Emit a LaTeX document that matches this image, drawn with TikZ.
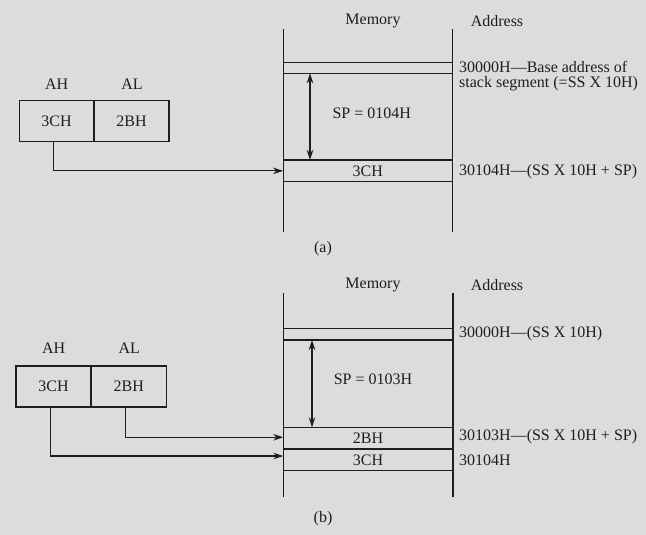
\documentclass[tikz,border=0pt]{standalone}
\usepackage{fontspec}
\setmainfont{Liberation Serif}
\usetikzlibrary{arrows.meta}
\definecolor{bg}{RGB}{220,220,218}
\definecolor{ink}{RGB}{30,30,30}
\tikzset{
  txt/.style={inner sep=0pt, text=ink, font=\fontsize{16}{15}\selectfont},
  ln/.style={draw=ink, line width=1.2pt},
  cellbox/.style={txt, minimum width=169pt, minimum height=21.7pt},
  regbox/.style={txt, draw=ink, line width=1.2pt, minimum width=75pt, minimum height=41pt},
  arr/.style={ln, -{Stealth[length=10pt,width=6.5pt]}},
  dbl/.style={ln, {Stealth[length=10pt,width=6.5pt]}-{Stealth[length=10pt,width=6.5pt]}}
}
\begin{document}
\begin{tikzpicture}[x=1pt,y=-1pt]
\useasboundingbox (0,0) rectangle (646,535);
\fill[bg] (0,0) rectangle (646,535);

% ---------------- (a) ----------------
\node[txt] (amem) at (373,21) {Memory};
\node[txt] (aadr) at (497,21) {Address};
\coordinate (aLt) at (283.3,29);
\coordinate (aLb) at (283.3,231.7);
\coordinate (aRt) at (452.3,29);
\coordinate (aRb) at (452.3,231.7);
\draw[ln] (aLt) -- (aLb);
\draw[ln] (aRt) -- (aRb);
\draw[ln] (283.3,62.3) -- (452.3,62.3);
\draw[ln] (283.3,73.3) -- (452.3,73.3);
\draw[ln] (283.3,160) -- (452.3,160);
\draw[ln] (283.3,181.7) -- (452.3,181.7);
\node[cellbox] (a3) at (367.8,170.85) {3CH};
\coordinate (aspT) at (310,73.3);
\coordinate (aspB) at (310,160);
\draw[dbl] (aspT) -- (aspB);
\node[txt] (asp) at (371.7,113) {SP = 0104H};
\node[txt, anchor=west, align=left] (abase) at (459,75.8) {30000H—Base address of\\[0pt]stack segment (=SS X 10H)};
\node[txt, anchor=west] (aadd) at (459,172) {30104H—(SS X 10H + SP)};
\node[txt] (aAHl) at (56.6,84) {AH};
\node[txt] (aALl) at (132,84) {AL};
\node[regbox] (aAH) at (56.6,121.2) {3CH};
\node[regbox] (aAL) at (131.5,121.2) {2BH};
\draw[arr] ([xshift=-3pt]aAH.south) |- (a3.west);
\node[txt] (acap) at (323,248.3) {(a)};

% ---------------- (b) ----------------
\node[txt] (bmem) at (373,285) {Memory};
\node[txt] (badr) at (497,285) {Address};
\coordinate (bLt) at (283.3,293.3);
\coordinate (bLb) at (283.3,496.7);
\coordinate (bRt) at (453,293.3);
\coordinate (bRb) at (453,496.7);
\draw[ln] (bLt) -- (bLb);
\draw[ln] (bRt) -- (bRb);
\draw[ln] (283.3,328.3) -- (453,328.3);
\draw[ln] (283.3,340) -- (453,340);
\draw[ln] (283.3,427.3) -- (453,427.3);
\draw[ln] (283.3,449) -- (453,449);
\draw[ln] (283.3,470.7) -- (453,470.7);
\node[cellbox] (b2) at (368,438.5) {2BH};
\node[cellbox] (b3) at (368,460.3) {3CH};
\coordinate (bspT) at (312,340);
\coordinate (bspB) at (312,427.3);
\draw[dbl] (bspT) -- (bspB);
\node[txt] (bsp) at (373,379) {SP = 0103H};
\node[txt, anchor=west] (bbase) at (459,333.3) {30000H—(SS X 10H)};
\node[txt, anchor=west] (badd) at (459,436.7) {30103H—(SS X 10H + SP)};
\node[txt, anchor=west] (badd2) at (459,460) {30104H};
\node[txt] (bAHl) at (53.7,348.3) {AH};
\node[txt] (bALl) at (129.3,348.3) {AL};
\node[regbox] (bAH) at (53.5,386.4) {3CH};
\node[regbox] (bAL) at (128.8,386.4) {2BH};
\coordinate (b2in) at (283.3,437.3);
\coordinate (b3in) at (283.3,456);
\draw[arr] ([xshift=-3pt]bAL.south) |- (b2in);
\draw[arr] ([xshift=-3pt]bAH.south) |- (b3in);
\node[txt] (bcap) at (323,518.3) {(b)};
\end{tikzpicture}
\end{document}
